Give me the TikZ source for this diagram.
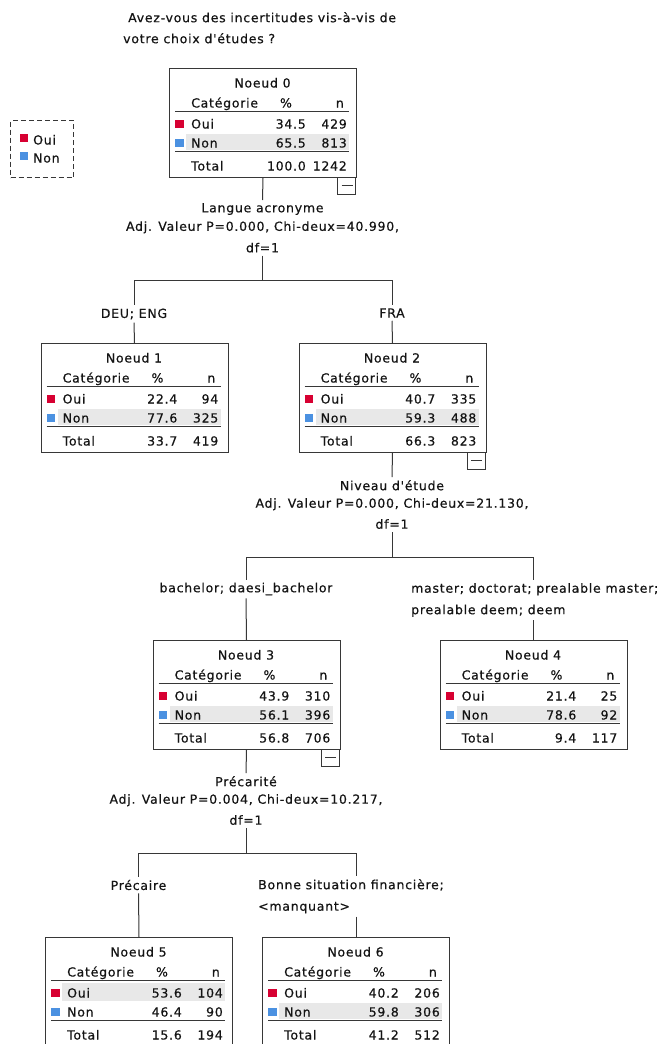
\documentclass[tikz,border=0pt]{standalone}
\usepackage{fontspec}
\newfontfamily\tfont[LetterSpace=6,FakeBold=0.5]{DejaVu Sans}
\definecolor{oui}{RGB}{215,0,50}
\definecolor{non}{RGB}{75,145,225}
\definecolor{band}{RGB}{232,232,232}
\definecolor{ln}{RGB}{55,55,55}
\definecolor{ink}{RGB}{20,20,20}
\tikzset{
  every node/.style={font=\tfont\fontsize{12.5pt}{15pt}\selectfont, text=ink},
  txt/.style={inner sep=0pt},
  boxframe/.style={draw=ln, line width=1pt, minimum width=187pt, minimum height=109pt, inner sep=0pt, anchor=north west},
  minusbox/.style={draw=ln, line width=1pt, minimum width=18pt, minimum height=17pt, inner sep=0pt, anchor=north east},
  hrule/.style={draw=ln, line width=1.3pt},
  drule/.style={draw=ln, line width=1.7pt},
  conn/.style={draw=ln, line width=1pt},
  split/.style={align=center, inner sep=3pt, anchor=north, font=\tfont\fontsize{12.5pt}{17.5pt}\selectfont},
  branch/.style={inner sep=3pt},
  branchtwo/.style={align=left, inner sep=3pt, anchor=north west, font=\tfont\fontsize{12.5pt}{21.5pt}\selectfont},
}
% #1 name, #2 left, #3 top, #4 title, #5 p oui, #6 n oui, #7 p non, #8 n non, #9 p total
\newcommand\tnode[9]{\def\tN{#1}\def\tL{#2}\def\tT{#3}\def\tTi{#4}\def\pA{#5}\def\nA{#6}\def\pB{#7}\def\nB{#8}\def\pT{#9}\tnodeB}
% #1 n total, #2 highlighted row (1 oui / 2 non), #3 minus box (1/0)
\newcommand\tnodeB[3]{%
  \begin{scope}[shift={(\tL,\tT)}]
    \ifnum#2=1 \fill[band] (17,46) rectangle (180,64);\else \fill[band] (17,66) rectangle (180,82);\fi
    \node[boxframe] (\tN) at (0,0) {};
    \node[txt, anchor=base] (\tN-ti) at (93.5,19.5) {\tTi};
    \node[txt, anchor=base west] (\tN-hc) at (22,39.5) {Catégorie};
    \node[txt, anchor=base] (\tN-hp) at (117,39.5) {\%};
    \node[txt, anchor=base east] (\tN-hn) at (175,39.5) {n};
    \draw[hrule] (6,43.5) -- (180,43.5);
    \fill[oui] (6,51.5) rectangle (14.5,60);
    \node[txt, anchor=base west] (\tN-a) at (22,60.5) {Oui};
    \node[txt, anchor=base east] (\tN-ap) at (137,60.5) {\pA};
    \node[txt, anchor=base east] (\tN-an) at (178,60.5) {\nA};
    \fill[non] (6,70.5) rectangle (14.5,79);
    \node[txt, anchor=base west] (\tN-b) at (22,79.5) {Non};
    \node[txt, anchor=base east] (\tN-bp) at (137,79.5) {\pB};
    \node[txt, anchor=base east] (\tN-bn) at (178,79.5) {\nB};
    \draw[drule] (6,83.5) -- (180,83.5);
    \node[txt, anchor=base west] (\tN-t) at (22,102.5) {Total};
    \node[txt, anchor=base east] (\tN-tp) at (137,102.5) {\pT};
    \node[txt, anchor=base east] (\tN-tn) at (178,102.5) {#1};
    \ifnum#3=1
      \node[minusbox] (\tN-m) at (187,109) {};
      \draw[line width=1.3pt, draw=ln] (172.5,117.5) -- (183.5,117.5);
    \fi
  \end{scope}}
\begin{document}
\begin{tikzpicture}[x=1pt,y=-1pt]
  \useasboundingbox (0,0) rectangle (659,1044);
  \clip (0,0) rectangle (659,1044);
  \fill[white] (0,0) rectangle (659,1044);

  % title
  \node[anchor=north west, align=left, inner sep=0pt, font=\tfont\fontsize{12.5pt}{21pt}\selectfont] (title) at (123,12)
    {\hspace*{5pt}Avez-vous des incertitudes vis-à-vis de\\votre choix d'études ?};

  % legend
  \node[draw=ln, line width=1pt, dash pattern=on 5pt off 3pt, minimum width=63pt, minimum height=57pt, inner sep=0pt, anchor=north west] (leg) at (10,120) {};
  \fill[oui] (20,134) rectangle (28,142);
  \fill[non] (20,152) rectangle (28,160);
  \node[txt, anchor=base west] (leg-a) at (33,144.5) {Oui};
  \node[txt, anchor=base west] (leg-b) at (33,162.5) {Non};

  % tree nodes
  \tnode{n0}{169}{68}{Noeud 0}{34.5}{429}{65.5}{813}{100.0}{1242}{2}{1}
  \tnode{n1}{40.5}{343}{Noeud 1}{22.4}{94}{77.6}{325}{33.7}{419}{2}{0}
  \tnode{n2}{298.5}{343}{Noeud 2}{40.7}{335}{59.3}{488}{66.3}{823}{2}{1}
  \tnode{n3}{152.5}{640}{Noeud 3}{43.9}{310}{56.1}{396}{56.8}{706}{2}{1}
  \tnode{n4}{439.5}{640}{Noeud 4}{21.4}{25}{78.6}{92}{9.4}{117}{2}{0}
  \tnode{n5}{45}{937}{Noeud 5}{53.6}{104}{46.4}{90}{15.6}{194}{1}{0}
  \tnode{n6}{262}{937}{Noeud 6}{40.2}{206}{59.8}{306}{41.2}{512}{2}{0}

  % split labels
  \node[split, font=\tfont\fontsize{12.5pt}{18.5pt}\selectfont] (s0) at (262.5,200) {Langue acronyme\\Adj. Valeur P=0.000, Chi-deux=40.990,\\[3pt]df=1};
  \node[split] (s2) at (392,477) {Niveau d'étude\\Adj. Valeur P=0.000, Chi-deux=21.130,\\[3.5pt]df=1};
  \node[split] (s3) at (246,773) {Précarité\\Adj. Valeur P=0.004, Chi-deux=10.217,\\[3.5pt]df=1};

  \coordinate (j0) at (262.5,280);
  \coordinate (j2) at (392,557);
  \coordinate (j3) at (246,853);

  % branch labels
  \node[branch] (l1) at (134,314) {DEU; ENG};
  \node[branch] (l2) at (392,313) {FRA};
  \node[branch] (l3) at (246,589) {bachelor; daesi\_bachelor};
  \node[branchtwo] (l4) at (408,580) {master; doctorat; prealable master;\\prealable deem; deem};
  \node[branch] (l5) at (138.5,885) {Précaire};
  \node[branchtwo] (l6) at (255,876) {Bonne situation financière;\\<manquant>};

  % connectors
  \draw[conn] (n0.south) -- (s0.north);
  \draw[conn] (s0.south) -- (j0);
  \draw[conn] (j0) -| (l1.north);
  \draw[conn] (j0) -| (l2.north);
  \draw[conn] (l1.south) -- (n1.north);
  \draw[conn] (l2.south) -- (n2.north);

  \draw[conn] (n2.south) -- (s2.north);
  \draw[conn] (s2.south) -- (j2);
  \draw[conn] (j2) -| (l3.north);
  \draw[conn] (j2) -| (n4.north |- l4.north);
  \draw[conn] (l3.south) -- (n3.north);
  \draw[conn] (n4.north |- l4.south) -- (n4.north);

  \draw[conn] (n3.south) -- (s3.north);
  \draw[conn] (s3.south) -- (j3);
  \draw[conn] (j3) -| (l5.north);
  \draw[conn] (j3) -| (n6.north |- l6.north);
  \draw[conn] (l5.south) -- (n5.north);
  \draw[conn] (n6.north |- l6.south) -- (n6.north);
\end{tikzpicture}
\end{document}
